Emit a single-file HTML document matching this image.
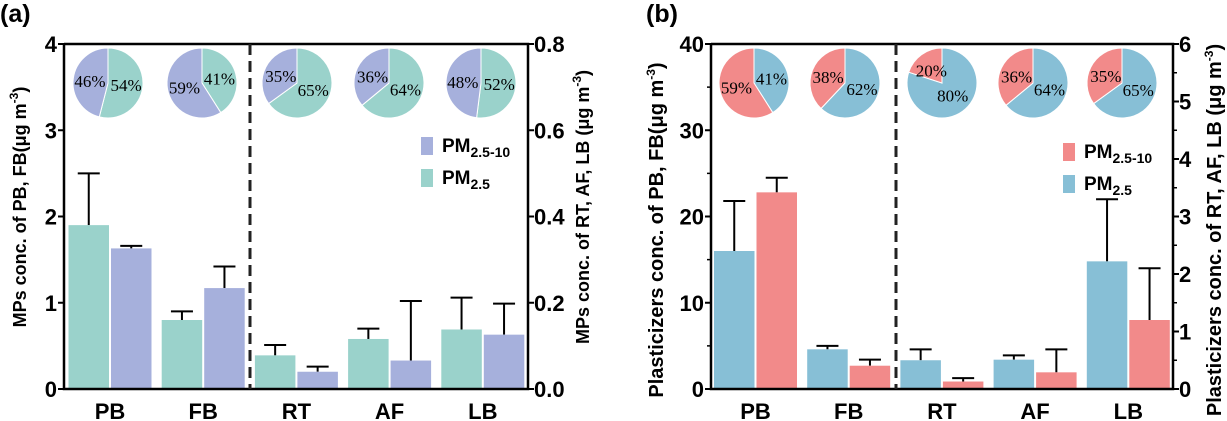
<!DOCTYPE html>
<html><head><meta charset="utf-8"><style>
body{margin:0;background:#fff}
svg{display:block}
text{font-family:"Liberation Sans",Arial,sans-serif}
.tk{font-size:22px;font-weight:bold}
.cat{font-size:22px;font-weight:bold}
.pl{font-family:"Liberation Serif",serif;font-size:17px}
.lg{font-size:19px;font-weight:bold}
</style></head><body>
<svg id="c" width="1227" height="421" viewBox="0 0 1227 421"></svg>
<script>
const categories=["PB","FB","RT","AF","LB"];
// panel a (PB,FB on left axis 0-4; RT,AF,LB on right axis 0-0.8)
const aPm25=[1.9,0.8,0.078,0.116,0.138];
const aPm25Err=[2.5,0.9,0.102,0.14,0.212];
const aPm10=[1.63,1.17,0.04,0.066,0.126];
const aPm10Err=[1.66,1.42,0.052,0.204,0.198];
const aPie25=[54,41,65,64,52];
const aLeftTicks=["0","1","2","3","4"];
const aRightTicks=["0.0","0.2","0.4","0.6","0.8"];
// panel b (left 0-40; right 0-6)
const bPm25=[16,4.6,0.5,0.51,2.22];
const bPm25Err=[21.8,5.0,0.69,0.585,3.3];
const bPm10=[22.8,2.7,0.13,0.29,1.2];
const bPm10Err=[24.5,3.4,0.19,0.69,2.1];
const bPie25=[41,62,80,64,65];
const bLeftTicks=["0","10","20","30","40"];
const bRightTicks=["0","1","2","3","4","5","6"];
const rightAxisCats=[false,false,true,true,true];

const NS="http://www.w3.org/2000/svg";
const svg=document.getElementById('c');
function mk(t,a,p){const e=document.createElementNS(NS,t);for(const k in a)e.setAttribute(k,a[k]);(p||svg).appendChild(e);return e;}

function panel(o){
  const g=mk('g',{});
  
  
  const yL=v=>o.bot-(v/o.lmax)*(o.bot-o.top);
  const yR=v=>o.bot-(v/o.rmax)*(o.bot-o.top);
  const step=o.step;
  for(let i=0;i<categories.length;i++){
    const y=rightAxisCats[i]?yR:yL;
    const x0=o.x0+i*step;
    const ser=[[o.s1,o.s1e,o.c1,o.n1],[o.s2,o.s2e,o.c2,o.n2]];
    ser.forEach((s,j)=>{
      const x=x0+j*(o.bw+2);
      const e=mk('line',{x1:x+o.bw/2,x2:x+o.bw/2,y1:y(s[0][i]),y2:y(s[1][i]),stroke:'#000','stroke-width':2},g);
      
      
      const cap=mk('line',{x1:x+o.bw/2-11,x2:x+o.bw/2+11,y1:y(s[1][i]),y2:y(s[1][i]),stroke:'#000','stroke-width':2},g);
      
      
      const r=mk('rect',{x:x,y:y(s[0][i]),width:o.bw,height:o.bot-y(s[0][i]),fill:s[2]},g);
      
      
    });
    const t=mk('text',{x:x0+o.bw+1,y:o.bot+30,'text-anchor':'middle',class:'cat'},g);
    t.textContent=categories[i];
    
    
    const cx=o.pieX[i],cy=83,R=35;
    const p=o.pie[i]/100;
    const a=p*2*Math.PI;
    const ex=cx+R*Math.sin(a),ey=cy-R*Math.cos(a);
    const s1=mk('path',{d:`M${cx},${cy}L${cx},${cy-R}A${R},${R} 0 ${p>0.5?1:0} 1 ${ex},${ey}Z`,fill:o.c1,stroke:'#fff','stroke-width':1},g);
    
    
    const s2=mk('path',{d:`M${cx},${cy}L${ex},${ey}A${R},${R} 0 ${p<0.5?1:0} 1 ${cx},${cy-R}Z`,fill:o.c2,stroke:'#fff','stroke-width':1},g);
    
    
    const m1=a/2,m2=a+(2*Math.PI-a)/2;
    [[m1,o.pie[i]],[m2,100-o.pie[i]]].forEach(([m,v])=>{
      const tx=mk('text',{x:cx+R*0.52*Math.sin(m),y:cy-R*0.45*Math.cos(m)+6,'text-anchor':'middle',class:'pl'},g);
      tx.textContent=v+'%';
      
      
    });
  }
  const ax=mk('path',{d:`M${o.left},${o.top}V${o.bot}H${o.right}V${o.top}H${o.left}`,fill:'none',stroke:'#000','stroke-width':2.5},g);
  
  
  const dl=mk('line',{x1:o.dash,x2:o.dash,y1:o.top,y2:o.bot,stroke:'#222','stroke-width':3,'stroke-dasharray':'11,6'},g);
  
  
  o.lt.forEach((l,i)=>{
    const v=i*o.lmax/(o.lt.length-1),y=yL(v);
    mk('line',{x1:o.left-6,x2:o.left,y1:y,y2:y,stroke:'#000','stroke-width':2},g);
    if(o.minor&&i<o.lt.length-1){const ym=yL(v+o.lmax/(o.lt.length-1)/2);mk('line',{x1:o.left-4,x2:o.left,y1:ym,y2:ym,stroke:'#000','stroke-width':1.5},g);}
    const t=mk('text',{x:o.left-7,y:y+8,'text-anchor':'end',class:'tk'},g);t.textContent=l;
    
    
  });
  o.rt.forEach((l,i)=>{
    const v=i*o.rmax/(o.rt.length-1),y=yR(v);
    mk('line',{x1:o.right,x2:o.right+6,y1:y,y2:y,stroke:'#000','stroke-width':2},g);
    if(o.minor&&i<o.rt.length-1){const ym=yR(v+o.rmax/(o.rt.length-1)/2);mk('line',{x1:o.right,x2:o.right+4,y1:ym,y2:ym,stroke:'#000','stroke-width':1.5},g);}
    const t=mk('text',{x:o.right+6,y:y+8,'text-anchor':'start',class:'tk'},g);t.textContent=l;
    
    
  });
  const tl=mk('text',{transform:`translate(${o.ltx},${o.tcy}) rotate(-90)`,'text-anchor':'middle',style:`font-size:${o.tfs}px;font-weight:bold`},g);
  tl.innerHTML=o.ltitle;
  
  
  const tr=mk('text',{transform:`translate(${o.rtx},${o.tcy}) rotate(-90)`,'text-anchor':'middle',style:`font-size:${o.tfs}px;font-weight:bold`},g);
  tr.innerHTML=o.rtitle;
  
  
  [[o.c2,o.lgY,'2.5-10',o.n2],[o.c1,o.lgY+32,'2.5',o.n1]].forEach(l=>{
    const r=mk('rect',{x:o.lgX,y:l[1],width:12,height:18,fill:l[0]},g);
    
    
    const t=mk('text',{x:o.lgX+21,y:l[1]+15,class:'lg'},g);
    t.innerHTML=`PM<tspan font-size="14" dy="5">${l[2]}</tspan>`;
    
    
  });
  const pl=mk('text',{x:o.plX,y:22,style:'font-size:25px;font-weight:bold'},g);
  pl.textContent=o.plabel;
  
  
}
const sup='<tspan font-size="12" dy="-8">-3</tspan><tspan dy="8">)</tspan>';
panel({name:'panel-a',left:64,right:528,top:44,bot:389,lmax:4,rmax:0.8,x0:68.5,step:93.2,bw:40.5,
  s1:aPm25,s1e:aPm25Err,s2:aPm10,s2e:aPm10Err,c1:'#9ad2cb',c2:'#a6b0dc',n1:'pm25',n2:'pm25-10',
  pie:aPie25,pieX:[108,202,297,389,481],lt:aLeftTicks,rt:aRightTicks,dash:250,minor:false,
  ltx:26,rtx:589,tcy:207,tfs:18,ltitle:'MPs conc. of PB, FB(μg m'+sup,
  rtitle:'MPs conc. of RT, AF, LB (μg m'+sup,
  lgX:421,lgY:137,plX:0,plabel:'(a)'});
panel({name:'panel-b',left:711,right:1173,top:44,bot:389,lmax:40,rmax:6,x0:714,step:93.2,bw:40.5,
  s1:bPm25,s1e:bPm25Err,s2:bPm10,s2e:bPm10Err,c1:'#87bfd6',c2:'#f28a8a',n1:'pm25',n2:'pm25-10',
  pie:bPie25,pieX:[754,845,942,1033,1122],lt:bLeftTicks,rt:bRightTicks,dash:896,minor:true,
  ltx:663,rtx:1221,tcy:230,tfs:20,ltitle:'Plasticizers conc. of PB, FB(μg m'+sup,
  rtitle:'Plasticizers conc. of RT, AF, LB (μg m'+sup,
  lgX:1063,lgY:143,plX:646,plabel:'(b)'});
</script>
</body></html>
